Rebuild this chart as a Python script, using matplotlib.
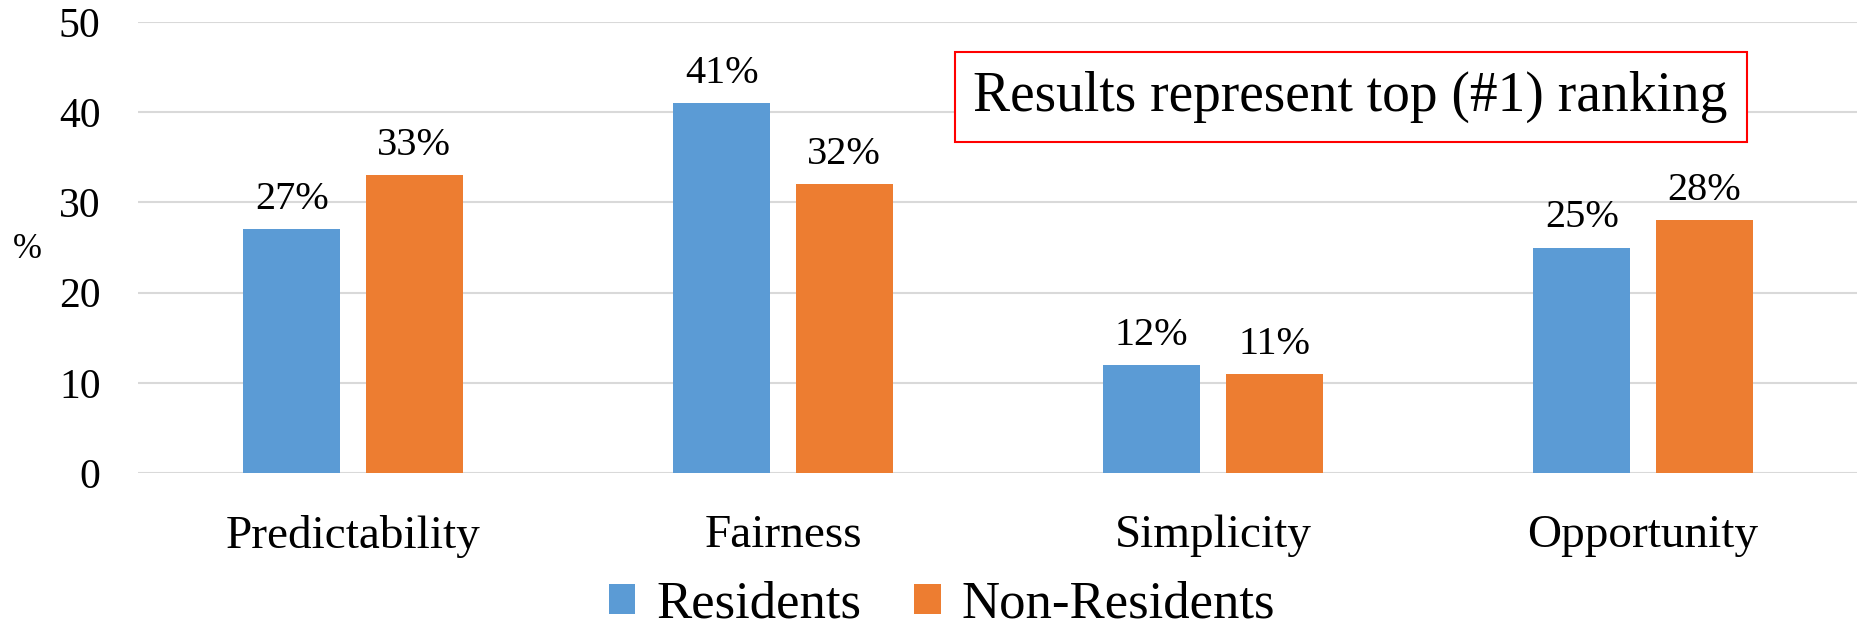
import matplotlib
matplotlib.use("Agg")
import matplotlib.pyplot as plt
import numpy as np

categories = ["Predictability", "Fairness", "Simplicity", "Opportunity"]
residents = [27, 41, 12, 25]
non_residents = [33, 32, 11, 28]
series_names = ["Residents", "Non-Residents"]
yticks = [0, 10, 20, 30, 40, 50]

plt.rcParams['font.family'] = ['Liberation Serif', 'DejaVu Serif']

fig = plt.figure(figsize=(18.58, 6.31), dpi=100)
# axes: left 138px, 0-line at y=473px, 50-line at y=22px
ax = fig.add_axes([0.0743, 1 - 473 / 631, 0.9257, (473 - 22) / 631])

x = np.arange(len(categories))
w = 0.225
off = 0.1425
blue = "#5B9BD5"
orange = "#ED7D31"
b1 = ax.bar(x - off, residents, w, color=blue, label=series_names[0], zorder=3)
b2 = ax.bar(x + off, non_residents, w, color=orange, label=series_names[1], zorder=3)

for bars, vals in ((b1, residents), (b2, non_residents)):
    for rect, v in zip(bars, vals):
        ax.annotate(f"{v}%", (rect.get_x() + rect.get_width() / 2, v),
                    xytext=(0, 8), textcoords="offset points",
                    ha="center", va="bottom", fontsize=29)

ax.set_xlim(-0.5, len(categories) - 0.5)
ax.set_ylim(0, 50)
ax.set_yticks(yticks)
ax.set_xticks(x)
ax.set_xticklabels(categories)
ax.tick_params(axis='x', length=0, pad=30, labelsize=34)
ax.tick_params(axis='y', length=0, pad=27, labelsize=30)
ax.yaxis.grid(True, color="#D9D9D9", linewidth=1.5, zorder=0)
ax.set_axisbelow(True)
for s in ax.spines.values():
    s.set_visible(False)

fig.text(0.007, 0.604, "%", fontsize=25, ha="left", va="center")

ax.text(0.705, 0.833, "Results represent top (#1) ranking", transform=ax.transAxes,
        ha="center", va="center", fontsize=40,
        bbox=dict(boxstyle="square,pad=0.34", facecolor="white", edgecolor="#FF0000", linewidth=1.5),
        zorder=5)

fig.legend(handles=[b1, b2], labels=series_names, loc="center", bbox_to_anchor=(0.507, 0.042),
           ncol=2, frameon=False, fontsize=38, handlelength=0.5, handleheight=0.5,
           handletextpad=0.4, columnspacing=1.0, borderaxespad=0, borderpad=0)

fig.savefig("out.png", dpi=100)
